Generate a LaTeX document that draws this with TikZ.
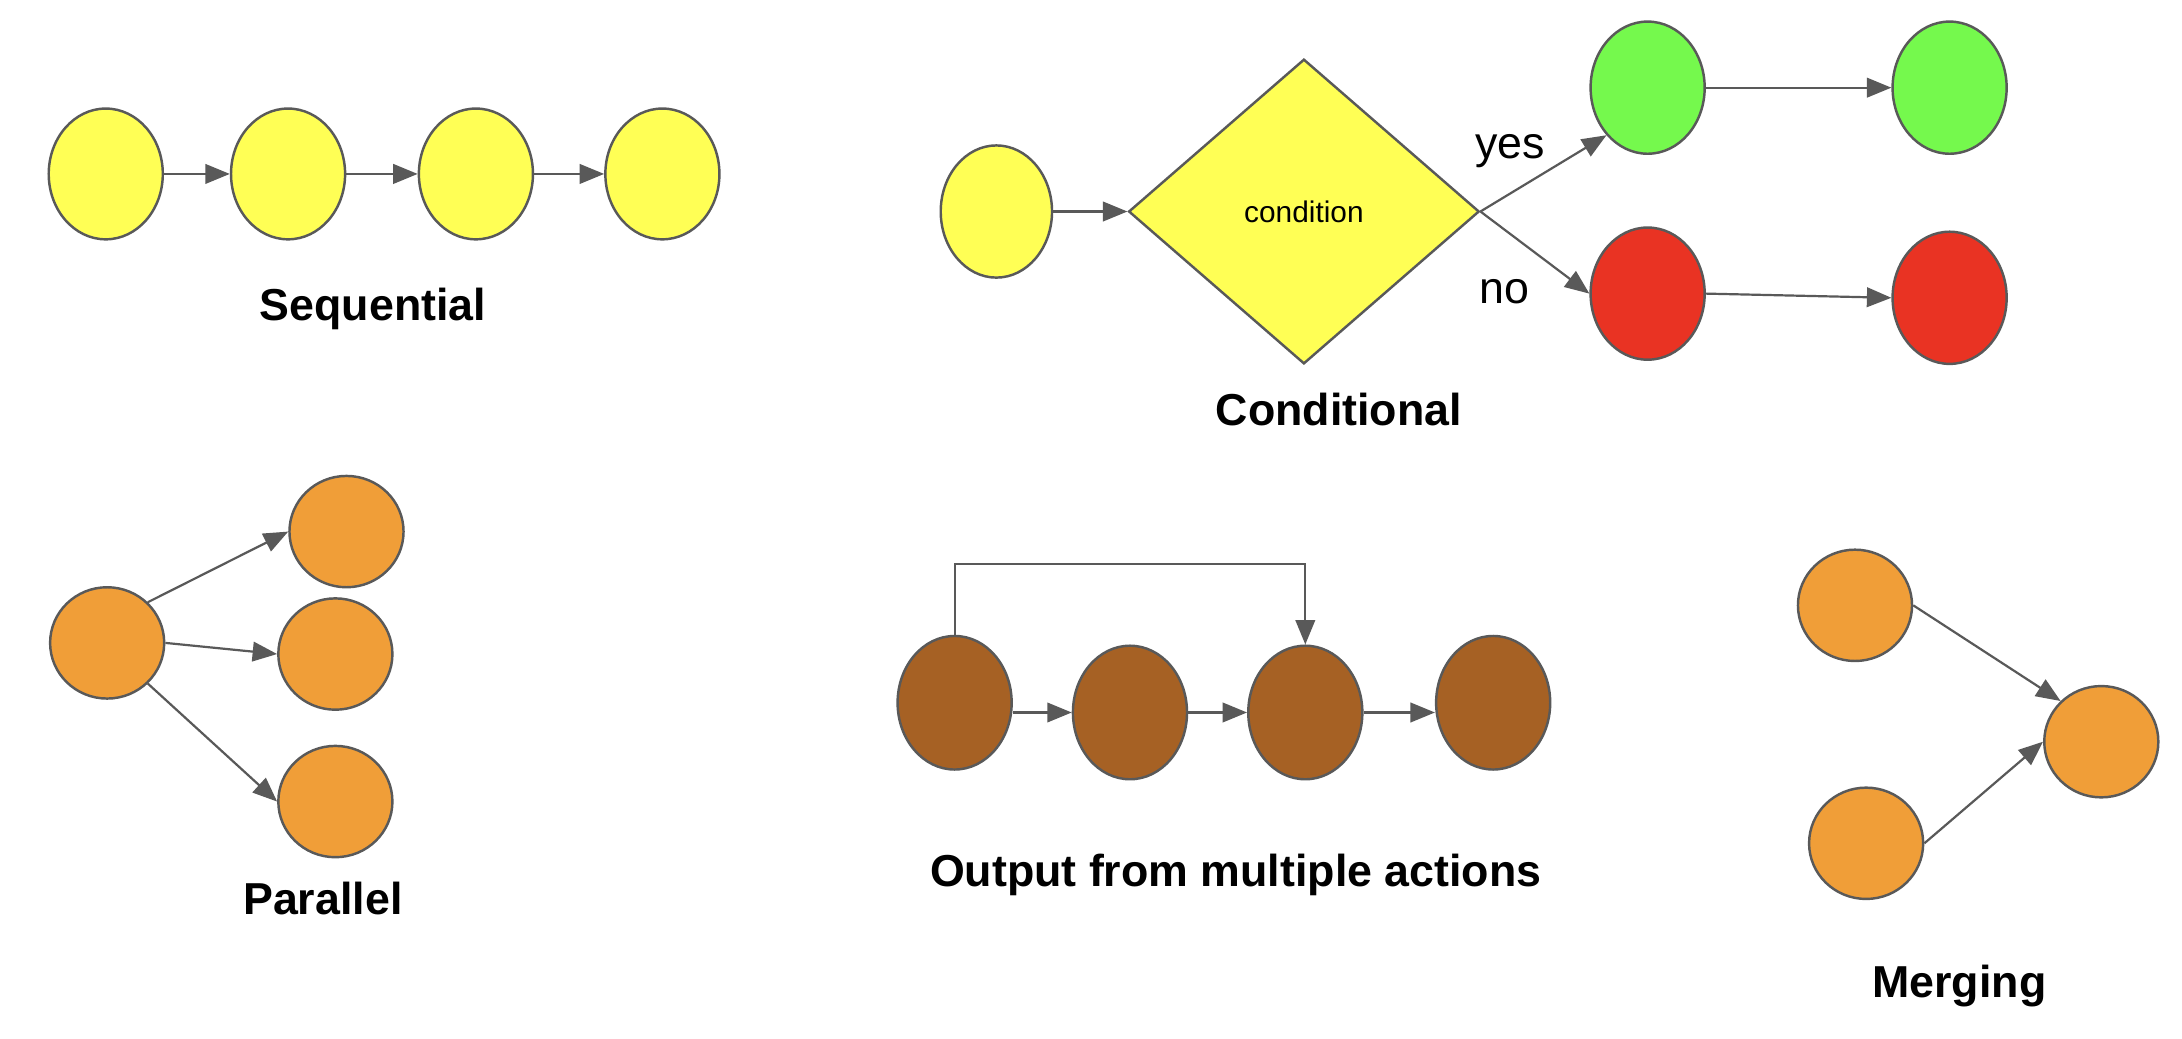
\documentclass[tikz,border=0pt]{standalone}
\usepackage{fontspec}
\setmainfont{Liberation Sans}
\usetikzlibrary{shapes.geometric,arrows.meta}
\definecolor{lc}{HTML}{595959}
\definecolor{yel}{HTML}{FFFF55}
\definecolor{grn}{HTML}{75F94D}
\definecolor{rd}{HTML}{E93323}
\definecolor{org}{HTML}{F09E38}
\definecolor{brn}{HTML}{A66124}
\begin{document}
\begin{tikzpicture}[x=0.02cm,y=-0.02cm,
  nd/.style={ellipse,draw=lc,line width=1pt,inner sep=0pt,minimum width=1.64cm,minimum height=1.88cm},
  yelnd/.style={nd,fill=yel},
  grnnd/.style={nd,fill=grn,minimum height=1.9cm},
  rdnd/.style={nd,fill=rd,minimum height=1.9cm},
  orgnd/.style={nd,fill=org,minimum height=1.6cm},
  brnnd/.style={nd,fill=brn,minimum height=1.92cm},
  arr/.style={draw=lc,line width=0.9pt,-{Triangle[length=10pt,width=8pt]}},
  ttl/.style={font=\fontsize{18.3}{22}\selectfont\bfseries,anchor=base,inner sep=0pt},
  lbl/.style={font=\fontsize{18.3}{22}\selectfont,anchor=base,inner sep=0pt},
]
\useasboundingbox[fill=white] (0,0) rectangle (1568,746);

% Sequential
\node[yelnd] (s1) at (76,125) {};
\node[yelnd] (s2) at (207,125) {};
\node[yelnd] (s3) at (342,125) {};
\node[yelnd] (s4) at (476,125) {};
\draw[arr] (s1) -- (s2);
\draw[arr] (s2) -- (s3);
\draw[arr] (s3) -- (s4);
\node[ttl] (tseq) at (268,230) {Sequential};

% Conditional
\node[yelnd,minimum width=1.6cm,minimum height=1.9cm] (c0) at (716,152) {};
\node[diamond,draw=lc,line width=1pt,fill=yel,inner sep=0pt,minimum width=5.04cm,minimum height=4.38cm,aspect=1.15,font=\fontsize{12.2}{14}\selectfont] (cd) at (937,152) {condition};
\node[grnnd] (g1) at (1184,63) {};
\node[grnnd] (g2) at (1401,63) {};
\node[rdnd] (r1) at (1184,211) {};
\node[rdnd] (r2) at (1401,214) {};
\draw[arr] (c0) -- (cd.west);
\draw[arr] (cd.east) -- (g1.south west);
\draw[arr] (cd.east) -- (r1.west);
\draw[arr] (g1) -- (g2);
\draw[arr] (r1.east) -- (r2.west);
\node[lbl] (lyes) at (1085,114) {yes};
\node[lbl] (lno) at (1081,218) {no};
\node[ttl] (tcond) at (962,306) {Conditional};

% Parallel
\node[orgnd] (p0) at (77,462) {};
\node[orgnd] (p1) at (249,382) {};
\node[orgnd] (p2) at (241,470) {};
\node[orgnd] (p3) at (241,576) {};
\draw[arr] (p0.45) -- (p1.west);
\draw[arr] (p0.east) -- (p2.west);
\draw[arr] (p0.-45) -- (p3.west);
\node[ttl] (tpar) at (232,657) {Parallel};

% Output from multiple actions
\node[brnnd] (b1) at (686,505) {};
\node[brnnd] (b2) at (812,512) {};
\node[brnnd] (b3) at (938,512) {};
\node[brnnd] (b4) at (1073,505) {};
\draw[arr] (b1.east |- b2) -- (b2);
\draw[arr] (b2) -- (b3);
\draw[arr] (b3) -- (b4.west |- b3);
\draw[arr] (b1.north) -- ++(0,-51) -| (b3.north);
\node[ttl] (tout) at (888,637) {Output from multiple actions};

% Merging
\node[orgnd] (m1) at (1333,435) {};
\node[orgnd] (m2) at (1341,606) {};
\node[orgnd] (m3) at (1510,533) {};
\draw[arr] (m1.east) -- (m3.135);
\draw[arr] (m2.east) -- (m3.west);
\node[ttl] (tmer) at (1408,717) {Merging};
\end{tikzpicture}
\end{document}
